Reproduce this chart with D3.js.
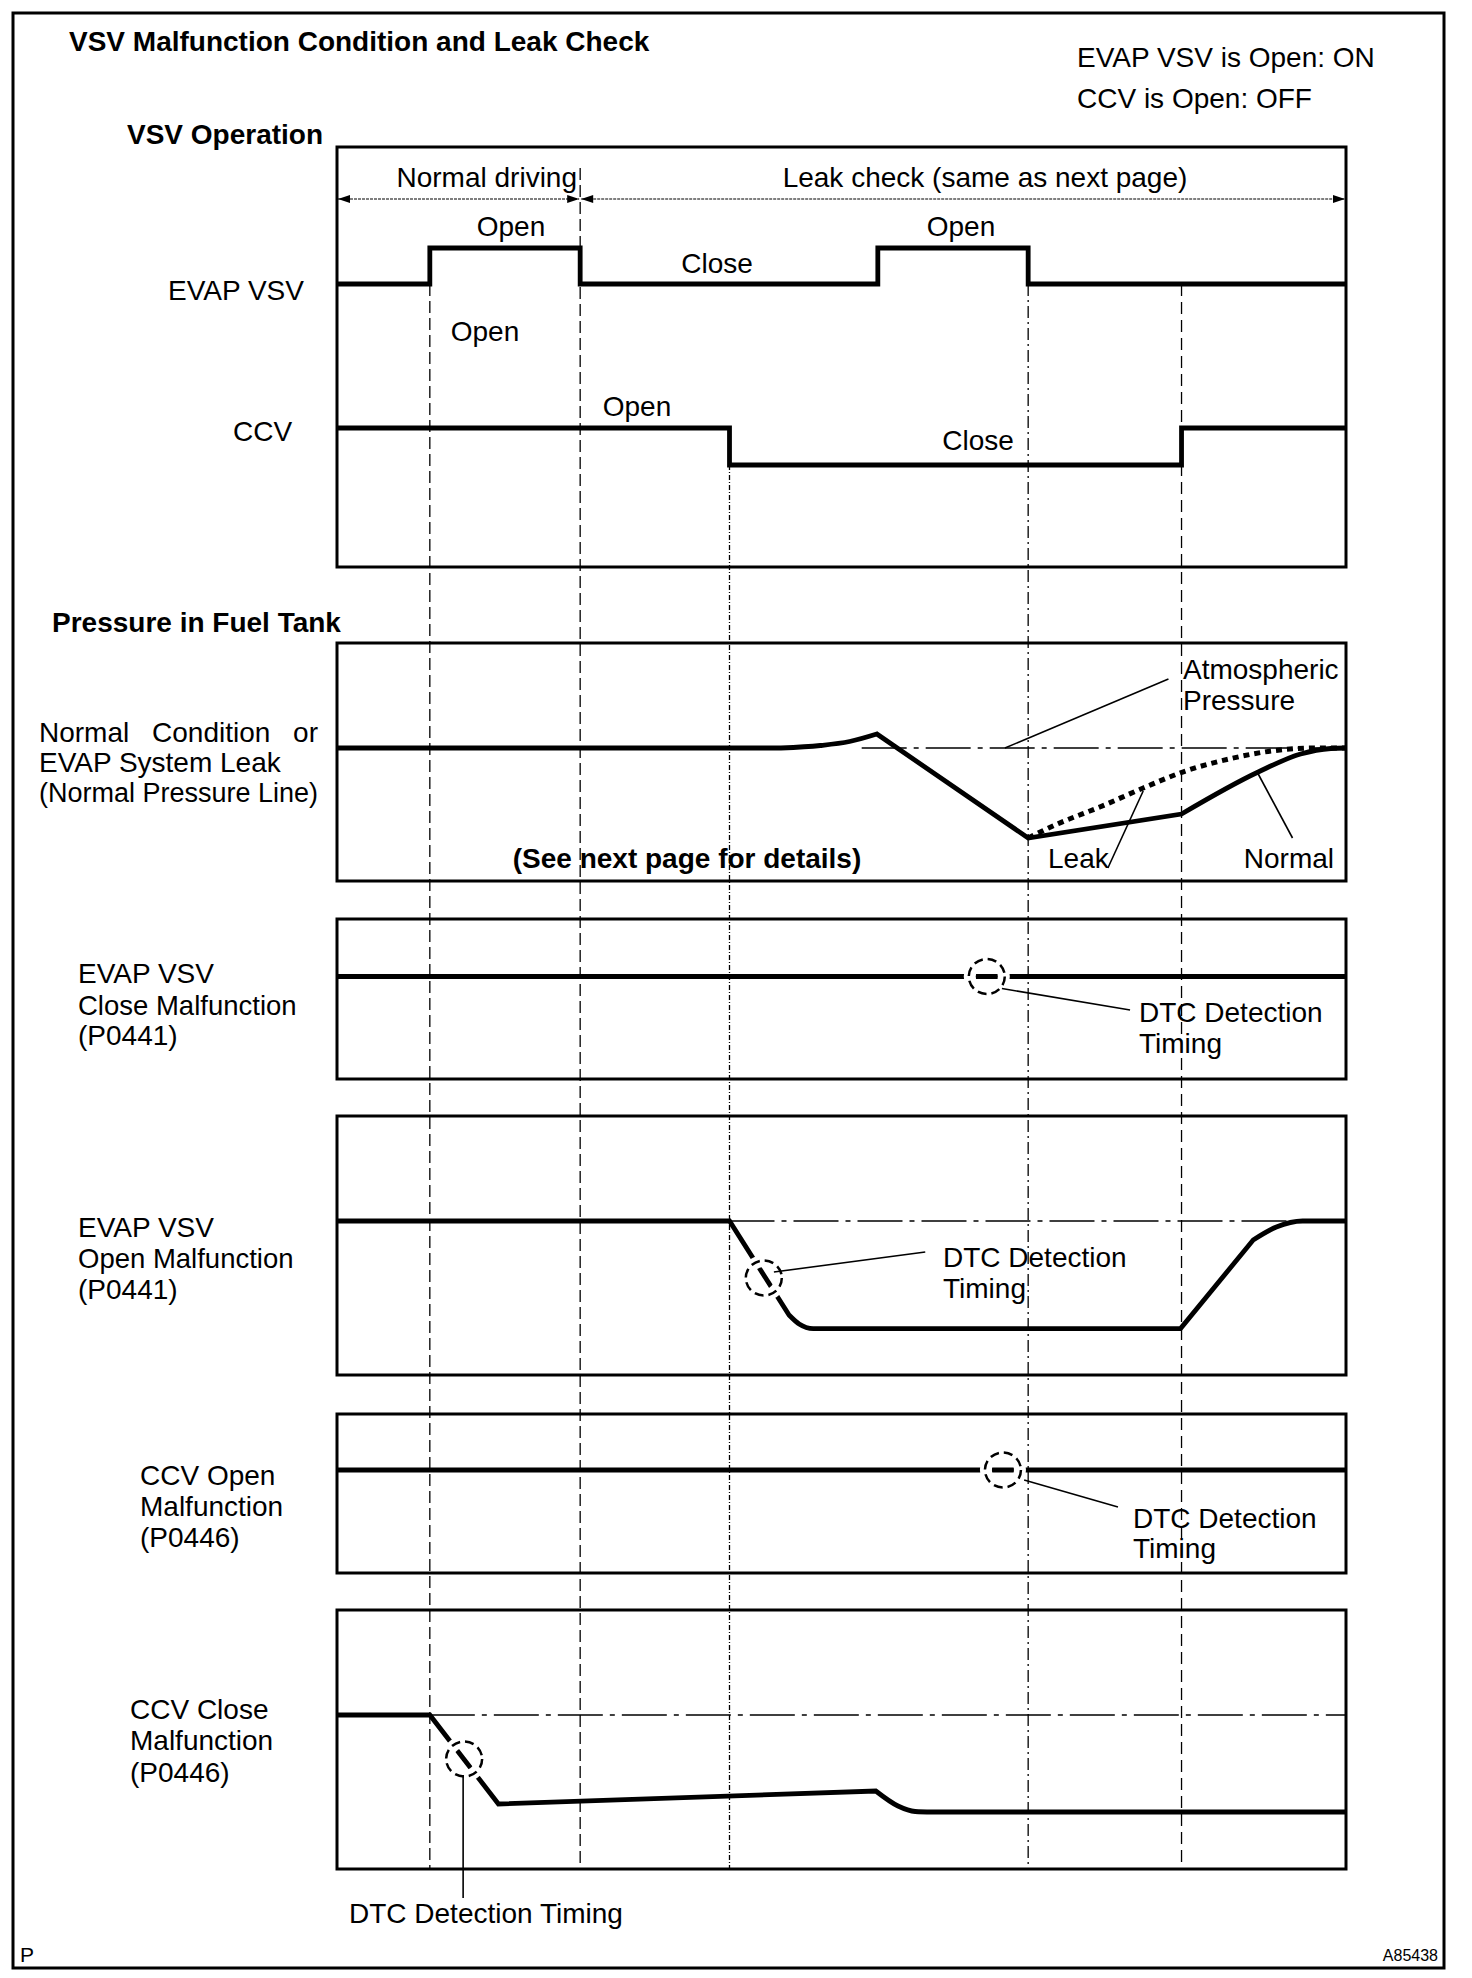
<!DOCTYPE html>
<html lang="en">
<head>
<meta charset="UTF-8" />
<title>VSV Malfunction Condition and Leak Check</title>
<script src="https://d3js.org/d3.v7.min.js"></script>
<style>
  body { margin: 0; background: #fff; }
  svg { display: block; }
  text { font-family: "Liberation Sans", Arial, Helvetica, sans-serif; font-size: 28px; fill: #000; }
  text.bold { font-weight: bold; }
  .border { fill: none; stroke: #000; stroke-width: 3px; }
  .frame { fill: none; stroke: #000; stroke-width: 3px; }
  .signal { fill: none; stroke: #000; stroke-width: 4.8px; stroke-linejoin: miter; }
  .leak { fill: none; stroke: #000; stroke-width: 5px; stroke-dasharray: 6,5; }
  .ref { fill: none; stroke: #000; stroke-width: 1.3px; stroke-dasharray: 45,7,5,7; }
  .marker { stroke: #000; stroke-width: 1.3px; }
  .pointer { stroke: #000; stroke-width: 1.6px; }
  .ring { fill: none; stroke: #000; stroke-width: 2.5px; stroke-dasharray: 9,5; }
  .span { stroke: #000; stroke-width: 1.2px; stroke-dasharray: 3,1; }
</style>
</head>
<body>
<script>
// ---- data (time in arbitrary units 0..100, pressure relative to atmosphere = 0) ----
// timing lines dropped through all panels
const markerTimes = [9.2, 24.1, 38.9, 68.5, 83.7];

// 1 = open, 0 = close
const evapVsvState = [[0, 0], [9.2, 1], [24.1, 0], [53.6, 1], [68.5, 0], [100, 0]];
const ccvState = [[0, 1], [38.9, 0], [83.7, 1], [100, 1]];

// each series is a list of pieces, corners sit where pieces meet
const normalPressure = [
  [[0, 0], [44, 0]],
  [[44, 0], [47.9, 0.25], [50.8, 0.65], [53.5, 1.4]],
  [[53.5, 1.4], [68.5, -9.0]],
  [[68.5, -9.0], [83.7, -6.6]],
  [[83.7, -6.6], [91.3, -2.4], [95.5, -0.6], [98.5, -0.05], [100, 0]]
];
const leakPressure = [
  [[68.5, -9.0], [71.4, -7.6], [75.6, -5.9], [79.9, -4.0], [84.1, -2.3], [88.4, -1.1], [92.6, -0.3], [97, 0], [100, 0]]
];
const vsvCloseMalfPressure = [[[0, 0], [100, 0]]];
const vsvOpenMalfPressure = [
  [[0, 0], [38.9, 0]],
  [[38.9, 0], [44.8, -9.4]],
  [[44.8, -9.4], [45.8, -10.3], [47.2, -10.76], [49, -10.76]],
  [[49, -10.76], [83.6, -10.76]],
  [[83.6, -10.76], [90.8, -1.9]],
  [[90.8, -1.9], [93.1, -0.6], [95.7, 0], [100, 0]]
];
const ccvOpenMalfPressure = [[[0, 0], [100, 0]]];
const ccvCloseMalfPressure = [
  [[0, 0], [9.2, 0]],
  [[9.2, 0], [16.0, -8.9]],
  [[16.0, -8.9], [53.4, -7.6]],
  [[53.4, -7.6], [55.6, -9.1], [57.3, -9.65], [59, -9.7]],
  [[59, -9.7], [100, -9.7]]
];

// DTC detection timing points (one per malfunction panel)
const detectionPoints = [[64.4, 0], [42.3, -5.7], [66.0, 0], [12.6, -4.4]];
// atmospheric reference line spans
const refSpans = [[52, 100], [38.9, 100], [9.2, 100]];

// annotation pointers [from, to]
const atmPointer = [[66.2, 0], [82.4, 6.9]];
const leakPointer = [[76.4, -12.0], [79.9, -4.3]];
const normalPointer = [[94.7, -9.0], [91.3, -2.6]];
const dtcPointers = [
  [[65.9, -1.2], [78.6, -3.35]],
  [[43.3, -5.1], [58.3, -3.1]],
  [[68.1, -1.0], [77.4, -3.7]],
  [[12.5, -6.0], [12.5, -18.3]]
];

// ---- layout ----
const width = 1472, height = 1978;
const boxes = [
  { top: 147, bottom: 567 },
  { top: 643, bottom: 881, zero: 748 },
  { top: 919, bottom: 1079, zero: 976.5 },
  { top: 1116, bottom: 1375, zero: 1221 },
  { top: 1414, bottom: 1573, zero: 1470 },
  { top: 1610, bottom: 1869, zero: 1715 }
];
const markerTop = [284, 168, 465, 284, 284];
const markerDash = ["12,5", "12,5", "5,2,1,2", "12,4,2,4", "12,6"];

const svg = d3.select("body").append("svg")
  .attr("width", width)
  .attr("height", height);

const defs = svg.append("defs");
defs.append("marker")
  .attr("id", "arrow")
  .attr("viewBox", "0 -5 12 10")
  .attr("refX", 12).attr("refY", 0)
  .attr("markerUnits", "userSpaceOnUse")
  .attr("markerWidth", 13).attr("markerHeight", 10)
  .attr("orient", "auto-start-reverse")
  .append("path")
  .attr("d", "M0,-4L12,0L0,4Z")
  .attr("fill", "#000");

const x = d3.scaleLinear().domain([0, 100]).range([337, 1346]);

// outer border
svg.append("rect").attr("class", "border")
  .attr("x", 13).attr("y", 13).attr("width", 1431).attr("height", 1955);

// panel frames
svg.selectAll("rect.frame")
  .data(boxes)
  .enter().append("rect")
  .attr("class", "frame")
  .attr("x", x(0)).attr("y", d => d.top)
  .attr("width", x(100) - x(0))
  .attr("height", d => d.bottom - d.top);

// vertical timing lines
svg.selectAll("line.marker")
  .data(markerTimes)
  .enter().append("line")
  .attr("class", "marker")
  .attr("x1", d => x(d)).attr("x2", d => x(d))
  .attr("y1", (d, i) => markerTop[i])
  .attr("y2", boxes[5].bottom)
  .style("stroke-dasharray", (d, i) => markerDash[i]);

// ---- VSV operation panel ----
const evapY = d3.scaleLinear().domain([0, 1]).range([284, 248]);
const ccvY = d3.scaleLinear().domain([0, 1]).range([465, 428]);

svg.append("path").attr("class", "signal")
  .attr("d", d3.line().x(d => x(d[0])).y(d => evapY(d[1])).curve(d3.curveStepAfter)(evapVsvState));
svg.append("path").attr("class", "signal")
  .attr("d", d3.line().x(d => x(d[0])).y(d => ccvY(d[1])).curve(d3.curveStepAfter)(ccvState));

// phase spans
const spanY = 199;
[[0, markerTimes[1]], [markerTimes[1], 100]].forEach(s => {
  svg.append("line").attr("class", "span")
    .attr("x1", x(s[0]) + 1).attr("x2", x(s[1]) - 1)
    .attr("y1", spanY).attr("y2", spanY)
    .attr("marker-start", "url(#arrow)")
    .attr("marker-end", "url(#arrow)");
});

// ---- pressure panels ----
const yScales = boxes.map(b => b.zero === undefined ? null :
  d3.scaleLinear().domain([0, -10]).range([b.zero, b.zero + 100]));

function seriesPath(pieces, y) {
  return pieces.map((p, i) => {
    const d = d3.line().x(v => x(v[0])).y(v => y(v[1])).curve(d3.curveMonotoneX)(p);
    return i ? d.replace(/^M/, "L") : d;
  }).join("");
}

// reference lines (atmospheric pressure)
[1, 3, 5].forEach((pi, k) => {
  const y = yScales[pi];
  svg.append("line").attr("class", "ref")
    .attr("x1", x(refSpans[k][0])).attr("x2", x(refSpans[k][1]))
    .attr("y1", y(0)).attr("y2", y(0));
});

svg.append("path").attr("class", "signal").attr("d", seriesPath(normalPressure, yScales[1]));
svg.append("path").attr("class", "leak").attr("d", seriesPath(leakPressure, yScales[1]));

const malfSeries = [vsvCloseMalfPressure, vsvOpenMalfPressure, ccvOpenMalfPressure, ccvCloseMalfPressure];
malfSeries.forEach((series, k) => {
  const y = yScales[k + 2];
  const d = seriesPath(series, y);
  svg.append("path").attr("class", "signal").attr("d", d);

  const cx = x(detectionPoints[k][0]), cy = y(detectionPoints[k][1]);
  // gap in the line around the detection ring
  svg.append("ellipse")
    .attr("cx", cx).attr("cy", cy).attr("rx", 23).attr("ry", 23)
    .attr("fill", "#fff");
  defs.append("clipPath").attr("id", "clip" + k)
    .append("ellipse")
    .attr("cx", cx).attr("cy", cy).attr("rx", 11).attr("ry", 11);
  svg.append("path").attr("class", "signal").attr("d", d)
    .attr("clip-path", `url(#clip${k})`);
  svg.append("ellipse").attr("class", "ring")
    .attr("cx", cx).attr("cy", cy).attr("rx", 18).attr("ry", 17.5);

  const p = dtcPointers[k];
  svg.append("line").attr("class", "pointer")
    .attr("x1", x(p[0][0])).attr("y1", y(p[0][1]))
    .attr("x2", x(p[1][0])).attr("y2", y(p[1][1]));
});

[atmPointer, leakPointer, normalPointer].forEach(p => {
  const y = yScales[1];
  svg.append("line").attr("class", "pointer")
    .attr("x1", x(p[0][0])).attr("y1", y(p[0][1]))
    .attr("x2", x(p[1][0])).attr("y2", y(p[1][1]));
});

// ---- texts ----
const labels = [
  { t: "VSV Malfunction Condition and Leak Check", x: 69, y: 51, bold: true },
  { t: "EVAP VSV is Open: ON", x: 1077, y: 67 },
  { t: "CCV is Open: OFF", x: 1077, y: 108 },
  { t: "VSV Operation", x: 127, y: 144, bold: true },
  { t: "Normal driving", x: 577, y: 187, anchor: "end" },
  { t: "Leak check (same as next page)", x: 985, y: 187, anchor: "middle" },
  { t: "Open", x: 511, y: 236, anchor: "middle" },
  { t: "Open", x: 961, y: 236, anchor: "middle" },
  { t: "Close", x: 717, y: 273, anchor: "middle" },
  { t: "EVAP VSV", x: 168, y: 300 },
  { t: "Open", x: 485, y: 341, anchor: "middle" },
  { t: "Open", x: 637, y: 416, anchor: "middle" },
  { t: "CCV", x: 233, y: 441 },
  { t: "Close", x: 978, y: 450, anchor: "middle" },

  { t: "Pressure in Fuel Tank", x: 52, y: 632, bold: true },
  { t: "Normal Condition or", x: 39, y: 742, ws: 15 },
  { t: "EVAP System Leak", x: 39, y: 772 },
  { t: "(Normal Pressure Line)", x: 39, y: 802, size: 27 },
  { t: "Atmospheric", x: 1183, y: 679 },
  { t: "Pressure", x: 1183, y: 710 },
  { t: "(See next page for details)", x: 687, y: 868, anchor: "middle", bold: true },
  { t: "Leak", x: 1048, y: 868 },
  { t: "Normal", x: 1334, y: 868, anchor: "end" },

  { t: "EVAP VSV", x: 78, y: 983 },
  { t: "Close Malfunction", x: 78, y: 1015, size: 27.5 },
  { t: "(P0441)", x: 78, y: 1045 },
  { t: "DTC Detection", x: 1139, y: 1022 },
  { t: "Timing", x: 1139, y: 1053 },

  { t: "EVAP VSV", x: 78, y: 1237 },
  { t: "Open Malfunction", x: 78, y: 1268, size: 27.5 },
  { t: "(P0441)", x: 78, y: 1299 },
  { t: "DTC Detection", x: 943, y: 1267 },
  { t: "Timing", x: 943, y: 1298 },

  { t: "CCV Open", x: 140, y: 1485 },
  { t: "Malfunction", x: 140, y: 1516 },
  { t: "(P0446)", x: 140, y: 1547 },
  { t: "DTC Detection", x: 1133, y: 1528 },
  { t: "Timing", x: 1133, y: 1558 },

  { t: "CCV Close", x: 130, y: 1719 },
  { t: "Malfunction", x: 130, y: 1750 },
  { t: "(P0446)", x: 130, y: 1782 },
  { t: "DTC Detection Timing", x: 349, y: 1923 },

  { t: "P", x: 20, y: 1962, size: 21 },
  { t: "A85438", x: 1438, y: 1961, anchor: "end", size: 16 }
];

svg.selectAll("text.label")
  .data(labels)
  .enter().append("text")
  .attr("class", d => d.bold ? "label bold" : "label")
  .attr("x", d => d.x)
  .attr("y", d => d.y)
  .attr("text-anchor", d => d.anchor || "start")
  .style("font-size", d => d.size ? d.size + "px" : null)
  .style("word-spacing", d => d.ws ? d.ws + "px" : null)
  .text(d => d.t);
</script>
</body>
</html>
